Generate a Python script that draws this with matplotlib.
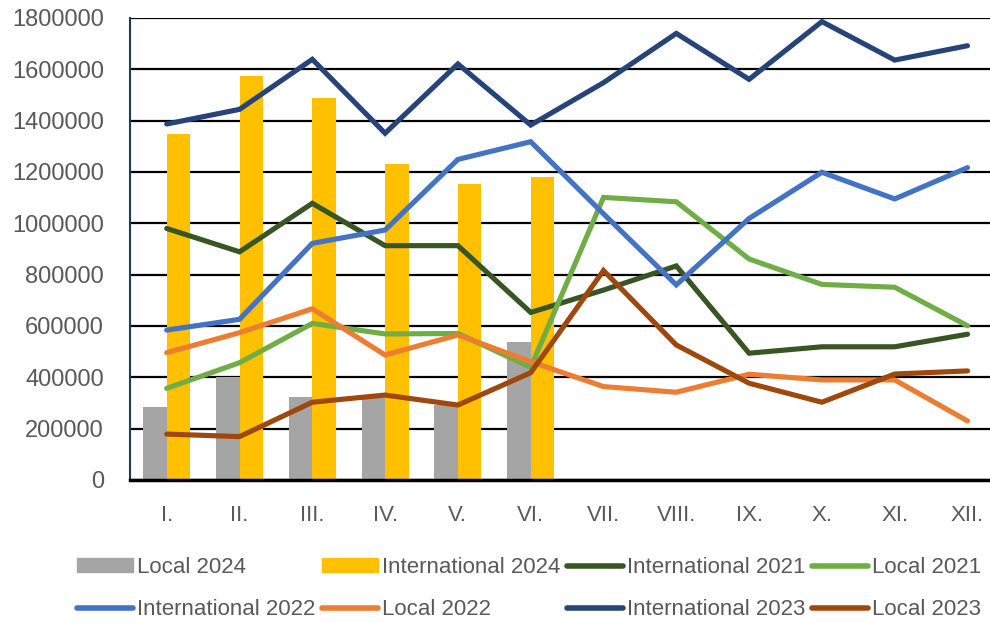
import matplotlib
matplotlib.use("Agg")
import matplotlib.pyplot as plt
import numpy as np
from matplotlib.patches import Patch
from matplotlib.lines import Line2D

months = ["I.", "II.", "III.", "IV.", "V.", "VI.", "VII.", "VIII.", "IX.", "X.", "XI.", "XII."]

local_2024 = [283000, 402000, 325000, 322000, 292000, 538000]
international_2024 = [1349000, 1574000, 1488000, 1231000, 1152000, 1179000]

international_2021 = [980000, 889000, 1078000, 913000, 913000, 653000, 740000, 834000, 494000, 519000, 519000, 568000]
local_2021 = [357000, 457000, 610000, 569000, 571000, 439000, 1101000, 1084000, 861000, 762000, 751000, 601000]
international_2022 = [584000, 626000, 922000, 974000, 1249000, 1318000, 1037000, 760000, 1019000, 1199000, 1095000, 1217000]
local_2022 = [496000, 574000, 667000, 487000, 565000, 461000, 364000, 342000, 412000, 390000, 390000, 230000]
international_2023 = [1387000, 1444000, 1639000, 1351000, 1621000, 1383000, 1548000, 1740000, 1561000, 1786000, 1636000, 1692000]
local_2023 = [179000, 169000, 303000, 331000, 292000, 418000, 816000, 526000, 377000, 303000, 413000, 425000]

yticks = [0, 200000, 400000, 600000, 800000, 1000000, 1200000, 1400000, 1600000, 1800000]

plt.rcParams['font.family'] = ['Liberation Sans', 'DejaVu Sans']

W, H = 990, 623
fig = plt.figure(figsize=(W / 100, H / 100), dpi=100)
ax = fig.add_axes([130.3 / W, 1 - 480 / H, 873.6 / W, 462 / H])

x = np.arange(len(months))
xb = np.arange(len(local_2024))
bw = 0.323
ax.bar(xb - bw, local_2024, width=bw, align='edge', color='#A5A5A5', zorder=2)
ax.bar(xb, international_2024, width=bw, align='edge', color='#FFC000', zorder=2)

series = [
    (international_2021, '#375623'),
    (local_2021, '#70AD47'),
    (international_2022, '#4472C4'),
    (local_2022, '#ED7D31'),
    (international_2023, '#264478'),
    (local_2023, '#9E480E'),
]
for vals, col in series:
    ax.plot(x, vals, color=col, lw=3.7, solid_capstyle='round', solid_joinstyle='miter', zorder=3)

ax.set_xlim(-0.5, 11.5)
ax.set_ylim(0, 1800000)
ax.set_yticks(yticks)
ax.set_yticklabels([str(v) for v in yticks])
ax.set_xticks(x)
ax.set_xticklabels(months)
ax.tick_params(axis='both', length=0, labelsize=16, labelcolor='#595959')
ax.tick_params(axis='y', labelsize=17, pad=19)
ax.tick_params(axis='x', pad=18)
ax.yaxis.grid(True, color='black', lw=1.6, zorder=1)
ax.set_axisbelow(True)
for s in ['top', 'right']:
    ax.spines[s].set_visible(False)
ax.spines['left'].set_color('#1F3864')
ax.spines['left'].set_linewidth(1.5)
ax.spines['bottom'].set_color('black')
ax.spines['bottom'].set_linewidth(2.5)
ax.spines['bottom'].set_zorder(4)

h_l24 = Patch(color='#A5A5A5')
h_i24 = Patch(color='#FFC000')
h_i21 = Line2D([], [], color='#375623', lw=4, solid_capstyle='round')
h_l21 = Line2D([], [], color='#70AD47', lw=4, solid_capstyle='round')
h_i22 = Line2D([], [], color='#4472C4', lw=4, solid_capstyle='round')
h_l22 = Line2D([], [], color='#ED7D31', lw=4, solid_capstyle='round')
h_i23 = Line2D([], [], color='#264478', lw=4, solid_capstyle='round')
h_l23 = Line2D([], [], color='#9E480E', lw=4, solid_capstyle='round')
handles = [h_l24, h_i22, h_i24, h_l22, h_i21, h_i23, h_l21, h_l23]
labels = ["Local 2024", "International 2022", "International 2024", "Local 2022",
          "International 2021", "International 2023", "Local 2021", "Local 2023"]
leg = fig.legend(handles, labels, ncol=4, loc='upper left',
                 bbox_to_anchor=(77 / W, 1 - 557 / H), frameon=False,
                 fontsize=16, labelcolor='#595959', handlelength=2.5,
                 handleheight=0.6, handletextpad=0.2, columnspacing=0.3,
                 labelspacing=0.95, borderpad=0, borderaxespad=0)

fig.savefig('out.png', dpi=100)
